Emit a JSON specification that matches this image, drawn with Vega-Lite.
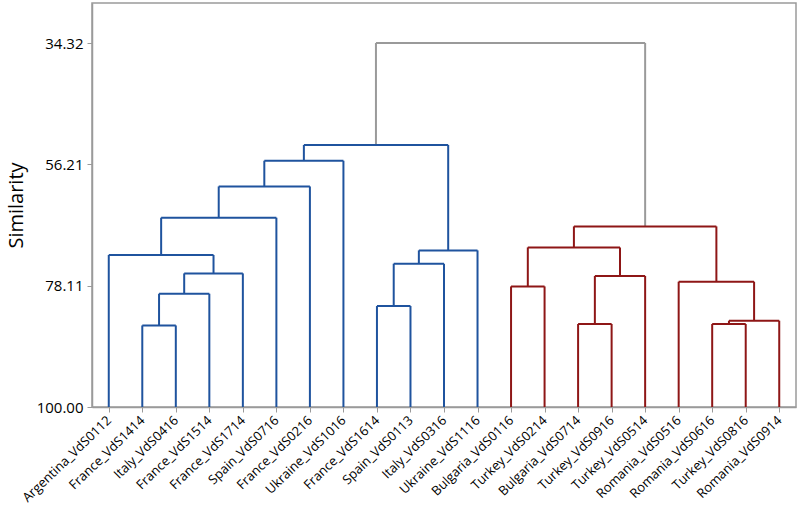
{
  "$schema": "https://vega.github.io/schema/vega-lite/v6.json",
  "width": 704,
  "height": 404,
  "autosize": "none",
  "padding": {"left": 92, "top": 3, "right": 4, "bottom": 106},
  "background": "white",
  "config": {
    "view": {"stroke": "#9a9a9a", "strokeWidth": 1.5},
    "font": "Open Sans",
    "axisX": {"labelOverlap": false, "labelBound": false, "labelFlush": false}
  },
  "data": {
    "values": [
      {"xl": 1, "xr": 2, "hl": 100, "hr": 100, "h": 85.28, "grp": "blue"},
      {"xl": 1.5, "xr": 3, "hl": 85.28, "hr": 100, "h": 79.56, "grp": "blue"},
      {"xl": 2.25, "xr": 4, "hl": 79.56, "hr": 100, "h": 75.89, "grp": "blue"},
      {"xl": 0, "xr": 3.125, "hl": 100, "hr": 75.89, "h": 72.57, "grp": "blue"},
      {"xl": 1.5625, "xr": 5, "hl": 72.57, "hr": 100, "h": 65.84, "grp": "blue"},
      {"xl": 3.28, "xr": 6, "hl": 65.84, "hr": 100, "h": 60.2, "grp": "blue"},
      {"xl": 4.64, "xr": 7, "hl": 60.2, "hr": 100, "h": 55.56, "grp": "blue"},
      {"xl": 8, "xr": 9, "hl": 100, "hr": 100, "h": 81.78, "grp": "blue"},
      {"xl": 8.5, "xr": 10, "hl": 81.78, "hr": 100, "h": 74.14, "grp": "blue"},
      {"xl": 9.25, "xr": 11, "hl": 74.14, "hr": 100, "h": 71.74, "grp": "blue"},
      {"xl": 5.82, "xr": 10.125, "hl": 55.56, "hr": 71.74, "h": 52.72, "grp": "blue"},
      {"xl": 12, "xr": 13, "hl": 100, "hr": 100, "h": 78.24, "grp": "red"},
      {"xl": 14, "xr": 15, "hl": 100, "hr": 100, "h": 85.02, "grp": "red"},
      {"xl": 14.5, "xr": 16, "hl": 85.02, "hr": 100, "h": 76.36, "grp": "red"},
      {"xl": 12.5, "xr": 15.25, "hl": 78.24, "hr": 76.36, "h": 71.2, "grp": "red"},
      {"xl": 18, "xr": 19, "hl": 100, "hr": 100, "h": 85.02, "grp": "red"},
      {"xl": 18.5, "xr": 20, "hl": 85.02, "hr": 100, "h": 84.43, "grp": "red"},
      {"xl": 17, "xr": 19.25, "hl": 100, "hr": 84.43, "h": 77.39, "grp": "red"},
      {"xl": 13.875, "xr": 18.125, "hl": 71.2, "hr": 77.39, "h": 67.41, "grp": "red"},
      {"xl": 7.97, "xr": 16, "hl": 52.72, "hr": 67.41, "h": 34.32, "grp": "gray"}
    ]
  },
  "layer": [
    {
      "mark": {"type": "rule", "strokeWidth": 2},
      "encoding": {
        "x": {"field": "xl", "type": "quantitative", "scale": {"domain": [-0.5, 20.5], "nice": false, "zero": false},
          "axis": {"values": [0,1,2,3,4,5,6,7,8,9,10,11,12,13,14,15,16,17,18,19,20], "grid": false, "title": null,
            "labelExpr": "['Argentina_VdS0112','France_VdS1414','Italy_VdS0416','France_VdS1514','France_VdS1714','Spain_VdS0716','France_VdS0216','Ukraine_VdS1016','France_VdS1614','Spain_VdS0113','Italy_VdS0316','Ukraine_VdS1116','Bulgaria_VdS0116','Turkey_VdS0214','Bulgaria_VdS0714','Turkey_VdS0916','Turkey_VdS0514','Romania_VdS0516','Romania_VdS0616','Turkey_VdS0816','Romania_VdS0914'][datum.value]",
            "labelAngle": -44, "labelAlign": "right", "labelBaseline": "middle", "labelFontSize": 13, "labelColor": "#000",
            "domainColor": "#9a9a9a", "domainWidth": 1.5, "tickColor": "#9a9a9a", "tickSize": 5, "labelPadding": 6, "labelOverlap": false}},
        "y": {"field": "hl", "type": "quantitative", "scale": {"domain": [27.1, 100], "reverse": true, "nice": false, "zero": false},
          "axis": {"values": [34.32, 56.21, 78.11, 100], "format": ".2f", "grid": false, "title": "Similarity",
          "titleFontSize": 20, "titleFontWeight": "normal", "titleColor": "#000", "titlePadding": 10,
          "labelFontSize": 15, "labelColor": "#000", "domainColor": "#9a9a9a", "domainWidth": 1.5, "tickColor": "#9a9a9a", "tickSize": 5, "labelPadding": 4}},
        "y2": {"field": "h"},
        "color": {"field": "grp", "type": "nominal", "scale": {"domain": ["blue", "red", "gray"], "range": ["#1f539e", "#8e1616", "#9a9a9a"]}, "legend": null}
      }
    },
    {
      "mark": {"type": "rule", "strokeWidth": 2},
      "encoding": {
        "x": {"field": "xr", "type": "quantitative",
          "axis": {"values": [0,1,2,3,4,5,6,7,8,9,10,11,12,13,14,15,16,17,18,19,20], "grid": false, "title": null,
            "labelExpr": "['Argentina_VdS0112','France_VdS1414','Italy_VdS0416','France_VdS1514','France_VdS1714','Spain_VdS0716','France_VdS0216','Ukraine_VdS1016','France_VdS1614','Spain_VdS0113','Italy_VdS0316','Ukraine_VdS1116','Bulgaria_VdS0116','Turkey_VdS0214','Bulgaria_VdS0714','Turkey_VdS0916','Turkey_VdS0514','Romania_VdS0516','Romania_VdS0616','Turkey_VdS0816','Romania_VdS0914'][datum.value]",
            "labelAngle": -44, "labelAlign": "right", "labelBaseline": "middle", "labelFontSize": 13, "labelColor": "#000",
            "domainColor": "#9a9a9a", "domainWidth": 1.5, "tickColor": "#9a9a9a", "tickSize": 5, "labelPadding": 6, "labelOverlap": false}},
        "y": {"field": "hr", "type": "quantitative",
          "axis": {"values": [34.32, 56.21, 78.11, 100], "format": ".2f", "grid": false, "title": "Similarity",
          "titleFontSize": 20, "titleFontWeight": "normal", "titleColor": "#000", "titlePadding": 10,
          "labelFontSize": 15, "labelColor": "#000", "domainColor": "#9a9a9a", "domainWidth": 1.5, "tickColor": "#9a9a9a", "tickSize": 5, "labelPadding": 4}},
        "y2": {"field": "h"},
        "color": {"field": "grp", "type": "nominal", "legend": null}
      }
    },
    {
      "mark": {"type": "rule", "strokeWidth": 2},
      "encoding": {
        "x": {"field": "xl", "type": "quantitative",
          "axis": {"values": [0,1,2,3,4,5,6,7,8,9,10,11,12,13,14,15,16,17,18,19,20], "grid": false, "title": null,
            "labelExpr": "['Argentina_VdS0112','France_VdS1414','Italy_VdS0416','France_VdS1514','France_VdS1714','Spain_VdS0716','France_VdS0216','Ukraine_VdS1016','France_VdS1614','Spain_VdS0113','Italy_VdS0316','Ukraine_VdS1116','Bulgaria_VdS0116','Turkey_VdS0214','Bulgaria_VdS0714','Turkey_VdS0916','Turkey_VdS0514','Romania_VdS0516','Romania_VdS0616','Turkey_VdS0816','Romania_VdS0914'][datum.value]",
            "labelAngle": -44, "labelAlign": "right", "labelBaseline": "middle", "labelFontSize": 13, "labelColor": "#000",
            "domainColor": "#9a9a9a", "domainWidth": 1.5, "tickColor": "#9a9a9a", "tickSize": 5, "labelPadding": 6, "labelOverlap": false}},
        "x2": {"field": "xr"},
        "y": {"field": "h", "type": "quantitative",
          "axis": {"values": [34.32, 56.21, 78.11, 100], "format": ".2f", "grid": false, "title": "Similarity",
          "titleFontSize": 20, "titleFontWeight": "normal", "titleColor": "#000", "titlePadding": 10,
          "labelFontSize": 15, "labelColor": "#000", "domainColor": "#9a9a9a", "domainWidth": 1.5, "tickColor": "#9a9a9a", "tickSize": 5, "labelPadding": 4}},
        "color": {"field": "grp", "type": "nominal", "legend": null}
      }
    }
  ]
}
